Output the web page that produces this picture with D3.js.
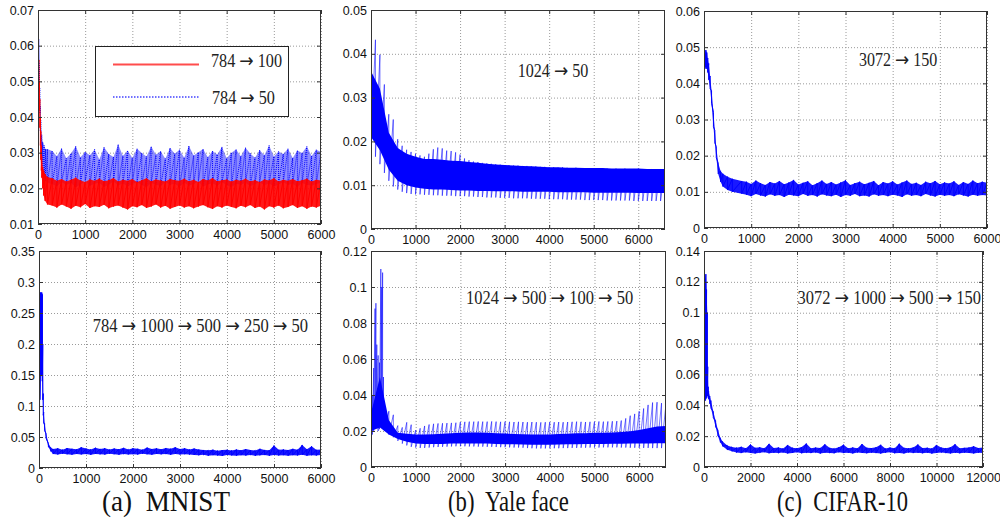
<!DOCTYPE html>
<html><head><meta charset="utf-8">
<script src="https://cdn.jsdelivr.net/npm/d3@7"></script>
<style>body{margin:0;background:#fff}svg{display:block}</style>
</head><body><svg id="c" width="1000" height="519"></svg>
<script>
// ================= DATA =================
// tick values / labels
const xTicks6000 = [0,1000,2000,3000,4000,5000,6000];
const xTicks12000 = [0,2000,4000,6000,8000,10000,12000];
const a1YTicks = [0.01,0.02,0.03,0.04,0.05,0.06,0.07];
const a1YLabels = ["0.01","0.02","0.03","0.04","0.05","0.06","0.07"];
const a2YTicks = [0,0.05,0.1,0.15,0.2,0.25,0.3,0.35];
const a2YLabels = ["0","0.05","0.1","0.15","0.2","0.25","0.3","0.35"];
const b1YTicks = [0,0.01,0.02,0.03,0.04,0.05];
const b1YLabels = ["0","0.01","0.02","0.03","0.04","0.05"];
const b2YTicks = [0,0.02,0.04,0.06,0.08,0.1,0.12];
const b2YLabels = ["0","0.02","0.04","0.06","0.08","0.1","0.12"];
const c1YTicks = [0,0.01,0.02,0.03,0.04,0.05,0.06];
const c1YLabels = ["0","0.01","0.02","0.03","0.04","0.05","0.06"];
const c2YTicks = [0,0.02,0.04,0.06,0.08,0.1,0.12,0.14];
const c2YLabels = ["0","0.02","0.04","0.06","0.08","0.1","0.12","0.14"];

const captions = ["(a)  MNIST","(b)  Yale face","(c)  CIFAR-10"];
const legendLabels = ["784 \u2192 100","784 \u2192 50"];
const annotations = ["1024 \u2192 50","3072 \u2192 150","784 \u2192 1000 \u2192 500 \u2192 250 \u2192 50","1024 \u2192 500 \u2192 100 \u2192 50","3072 \u2192 1000 \u2192 500 \u2192 150"];

// ---- (a) MNIST, 784 -> 100 (red): upper / lower envelope of the oscillating error
const a1RedHeadX  = [0,10,20,30,40,50,60,70,80,100,120,150,200];
const a1RedHeadHi = [0.066,0.062,0.056,0.050,0.045,0.040,0.036,0.032,0.029,0.026,0.025,0.024,0.0232];
const a1RedHeadLo = [0.062,0.055,0.048,0.042,0.037,0.032,0.028,0.025,0.023,0.020,0.018,0.0165,0.0155];
const a1RedTailHi = [0.0228,0.0221,0.0226,0.0219,0.0224,0.0230,0.0222,0.0218,0.0225,0.0221,
 0.0227,0.0220,0.0223,0.0229,0.0219,0.0224,0.0221,0.0226,0.0218,0.0223,
 0.0228,0.0220,0.0225,0.0222,0.0219,0.0226,0.0223,0.0221,0.0227,0.0220,
 0.0224,0.0218,0.0226,0.0222,0.0229,0.0220,0.0223,0.0225,0.0219,0.0224,
 0.0221,0.0227,0.0220,0.0223,0.0218,0.0225,0.0222,0.0228,0.0219,0.0224,
 0.0221,0.0226,0.0220,0.0223,0.0227,0.0219,0.0224,0.0222];
const a1RedTailLo = [0.0152,0.0146,0.0155,0.0149,0.0143,0.0151,0.0147,0.0156,0.0145,0.0150,
 0.0148,0.0154,0.0144,0.0149,0.0152,0.0146,0.0141,0.0150,0.0147,0.0153,
 0.0145,0.0149,0.0155,0.0146,0.0151,0.0143,0.0148,0.0152,0.0146,0.0150,
 0.0144,0.0149,0.0153,0.0147,0.0142,0.0150,0.0146,0.0152,0.0148,0.0144,
 0.0151,0.0147,0.0153,0.0145,0.0149,0.0141,0.0150,0.0146,0.0152,0.0144,
 0.0148,0.0153,0.0145,0.0150,0.0143,0.0149,0.0146,0.0151];

// ---- (a) MNIST, 784 -> 50 (blue dotted)
const a1BlueHeadX  = [0,10,20,30,40,50,60,80,100,130,160,200];
const a1BlueHeadHi = [0.070,0.067,0.062,0.055,0.048,0.043,0.039,0.035,0.033,0.032,0.031,0.031];
const a1BlueHeadLo = [0.068,0.062,0.055,0.047,0.041,0.036,0.032,0.028,0.025,0.023,0.022,0.0215];
const a1BlueTailHi = [0.0305,0.0290,0.0312,0.0284,0.0298,0.0318,0.0287,0.0302,0.0293,0.0309,
 0.0281,0.0315,0.0296,0.0288,0.0323,0.0291,0.0306,0.0285,0.0311,0.0299,
 0.0289,0.0317,0.0294,0.0304,0.0283,0.0313,0.0297,0.0308,0.0286,0.0319,
 0.0292,0.0301,0.0310,0.0287,0.0305,0.0295,0.0316,0.0284,0.0300,0.0309,
 0.0290,0.0314,0.0298,0.0286,0.0307,0.0293,0.0320,0.0289,0.0303,0.0296,
 0.0311,0.0285,0.0306,0.0299,0.0317,0.0291,0.0308,0.0302];
const a1BlueTailLo = [0.0212,0.0206,0.0218,0.0209,0.0215,0.0203,0.0211,0.0220,0.0207,0.0213,
 0.0216,0.0204,0.0210,0.0219,0.0208,0.0214,0.0205,0.0212,0.0217,0.0209,
 0.0203,0.0215,0.0211,0.0206,0.0218,0.0210,0.0213,0.0204,0.0216,0.0208,
 0.0212,0.0219,0.0205,0.0211,0.0214,0.0207,0.0217,0.0209,0.0203,0.0213,
 0.0210,0.0216,0.0206,0.0212,0.0218,0.0208,0.0214,0.0205,0.0211,0.0217,
 0.0209,0.0213,0.0204,0.0215,0.0210,0.0207,0.0212,0.0216];

// ---- (a) MNIST deep, 784 -> 1000 -> 500 -> 250 -> 50
const a2HeadX  = [0,10,20,40,60,70,80,90,100,120,150,200,250];
const a2HeadHi = [0.068,0.275,0.283,0.283,0.283,0.280,0.200,0.120,0.090,0.072,0.056,0.040,0.033];
const a2HeadLo = [0.058,0.065,0.110,0.150,0.150,0.140,0.110,0.085,0.072,0.060,0.048,0.034,0.027];
const a2TailHi = [0.0305,0.0318,0.0296,0.0322,0.0310,0.0301,0.0335,0.0314,0.0299,0.0327,
 0.0308,0.0320,0.0297,0.0315,0.0304,0.0325,0.0300,0.0318,0.0311,0.0296,
 0.0329,0.0306,0.0317,0.0302,0.0323,0.0312,0.0335,0.0305,0.0319,0.0300,
 0.0314,0.0298,0.0291,0.0285,0.0296,0.0280,0.0289,0.0294,0.0283,0.0299,
 0.0287,0.0306,0.0290,0.0284,0.0310,0.0292,0.0288,0.0362,0.0294,0.0300,
 0.0289,0.0309,0.0296,0.0372,0.0303,0.0350,0.0293,0.0298];
const a2TailLo = [0.0225,0.0218,0.0230,0.0221,0.0215,0.0227,0.0219,0.0224,0.0212,0.0226,
 0.0220,0.0216,0.0228,0.0222,0.0214,0.0225,0.0219,0.0223,0.0217,0.0229,
 0.0221,0.0215,0.0226,0.0220,0.0224,0.0213,0.0227,0.0218,0.0222,0.0216,
 0.0210,0.0205,0.0212,0.0198,0.0207,0.0201,0.0195,0.0209,0.0203,0.0199,
 0.0206,0.0200,0.0211,0.0196,0.0204,0.0208,0.0197,0.0210,0.0202,0.0206,
 0.0199,0.0207,0.0203,0.0212,0.0198,0.0205,0.0201,0.0208];

// ---- (b) Yale, 1024 -> 50 : outer envelope (every 100) and dense core (every 200)
const b1Hi = [0.0438,0.0432,0.0398,0.0330,0.0262,0.0250,0.0205,0.0190,0.0181,0.0176,0.0172,
 0.0168,0.0165,0.0172,0.0182,0.0186,0.0184,0.0179,0.0178,0.0175,0.0170,
 0.0161,0.0157,0.0154,0.0153,0.0151,0.0150,0.0149,0.0148,0.0147,0.0146,
 0.0146,0.0145,0.0145,0.0144,0.0144,0.0143,0.0143,0.0142,0.0142,0.0141,
 0.0141,0.0140,0.0141,0.0140,0.0139,0.0140,0.0139,0.0139,0.0138,0.0139,
 0.0138,0.0139,0.0138,0.0137,0.0138,0.0137,0.0138,0.0137,0.0137,0.0138,
 0.0137,0.0136,0.0137,0.0136,0.0137,0.0136];
const b1Lo = [0.0185,0.0165,0.0148,0.0128,0.0110,0.0097,0.0090,0.0085,0.0082,0.0080,0.0079,
 0.0079,0.0078,0.0078,0.0077,0.0077,0.0076,0.0076,0.0076,0.0075,0.0075,
 0.0075,0.0074,0.0074,0.0073,0.0073,0.0072,0.0072,0.0072,0.0071,0.0071,
 0.0071,0.0070,0.0070,0.0070,0.0070,0.0069,0.0069,0.0069,0.0069,0.0068,
 0.0068,0.0068,0.0068,0.0067,0.0067,0.0067,0.0067,0.0066,0.0066,0.0066,
 0.0066,0.0066,0.0065,0.0065,0.0065,0.0065,0.0065,0.0065,0.0064,0.0064,
 0.0064,0.0064,0.0064,0.0064,0.0064,0.0064];
const b1CoreHi = [0.036,0.032,0.022,0.0185,0.0172,0.0165,0.0160,0.0160,0.0158,0.0156,0.0155,
 0.0153,0.0151,0.0149,0.0147,0.0146,0.0145,0.0144,0.0143,0.0142,0.0141,0.0141,0.0140,
 0.0140,0.0139,0.0139,0.0139,0.0138,0.0138,0.0138,0.0138,0.0137,0.0137,0.0137];
const b1CoreLo = [0.021,0.018,0.0135,0.0110,0.0100,0.0095,0.0092,0.0090,0.0090,0.0089,0.0088,
 0.0088,0.0087,0.0087,0.0086,0.0086,0.0086,0.0085,0.0085,0.0085,0.0085,0.0084,0.0084,
 0.0084,0.0084,0.0083,0.0083,0.0083,0.0083,0.0083,0.0082,0.0082,0.0082,0.0082];

// ---- (b) Yale deep, 1024 -> 500 -> 100 -> 50
const b2HeadX  = [0,30,60,90,110,130,160,190,220,240,260,280,300];
const b2HeadHi = [0.046,0.040,0.055,0.088,0.091,0.068,0.062,0.058,0.110,0.100,0.108,0.050,0.036];
const b2HeadLo = [0.014,0.018,0.020,0.022,0.024,0.022,0.020,0.021,0.024,0.022,0.023,0.021,0.020];
const b2TailHi = [0.0310,0.0290,0.0230,0.0220,0.0248,0.0235,0.0205,0.0215,0.0228,0.0236,
 0.0240,0.0242,0.0243,0.0244,0.0245,0.0246,0.0250,0.0251,0.0252,0.0252,
 0.0253,0.0252,0.0252,0.0253,0.0252,0.0251,0.0252,0.0251,0.0250,0.0251,
 0.0250,0.0249,0.0250,0.0249,0.0248,0.0249,0.0250,0.0249,0.0250,0.0249,
 0.0250,0.0251,0.0252,0.0251,0.0250,0.0251,0.0252,0.0253,0.0252,0.0253,
 0.0254,0.0255,0.0258,0.0270,0.0285,0.0295,0.0310,0.0325,0.0345,0.0358,
 0.0360,0.0355,0.0352];
const b2TailLo = [0.0180,0.0165,0.0145,0.0130,0.0120,0.0112,0.0108,0.0106,0.0106,0.0108,
 0.0110,0.0111,0.0112,0.0113,0.0114,0.0115,0.0115,0.0115,0.0114,0.0114,
 0.0113,0.0113,0.0112,0.0112,0.0111,0.0110,0.0110,0.0109,0.0108,0.0108,
 0.0107,0.0105,0.0104,0.0103,0.0103,0.0103,0.0104,0.0104,0.0104,0.0105,
 0.0105,0.0106,0.0106,0.0107,0.0107,0.0108,0.0108,0.0108,0.0109,0.0109,
 0.0109,0.0109,0.0108,0.0108,0.0107,0.0107,0.0106,0.0106,0.0106,0.0105,
 0.0105,0.0105,0.0106];
const b2CoreHi = [0.030,0.050,0.026,0.019,0.0185,0.0180,0.0180,0.0182,0.0185,0.0188,0.0190,
 0.0192,0.0192,0.0190,0.0188,0.0186,0.0184,0.0182,0.0180,0.0180,0.0181,0.0183,0.0185,
 0.0187,0.0188,0.0190,0.0190,0.0192,0.0194,0.0198,0.0205,0.0215,0.0225,0.0228];
const b2CoreLo = [0.020,0.022,0.018,0.0155,0.0140,0.0130,0.0128,0.0128,0.0128,0.0130,0.0130,
 0.0131,0.0131,0.0130,0.0128,0.0127,0.0126,0.0125,0.0124,0.0124,0.0124,0.0125,0.0126,
 0.0127,0.0128,0.0128,0.0128,0.0129,0.0129,0.0130,0.0130,0.0131,0.0132,0.0132];

// ---- (c) CIFAR-10, 3072 -> 150
const c1HeadX  = [0,20,40,60,80,100,130,160,200,230,260,300,350,400,500,600,800];
const c1HeadHi = [0.0440,0.0480,0.0492,0.0485,0.0470,0.0455,0.0420,0.0380,0.0320,0.0270,0.0225,0.0180,0.0158,0.0150,0.0142,0.0136,0.0130];
const c1HeadLo = [0.0415,0.0440,0.0445,0.0440,0.0430,0.0410,0.0385,0.0345,0.0280,0.0235,0.0195,0.0150,0.0128,0.0115,0.0105,0.0100,0.0095];
const c1TailHi = [0.0128,0.0122,0.0131,0.0124,0.0119,0.0127,0.0123,0.0130,0.0121,0.0126,
 0.0133,0.0120,0.0125,0.0129,0.0118,0.0124,0.0131,0.0122,0.0127,0.0120,
 0.0126,0.0132,0.0119,0.0124,0.0128,0.0121,0.0125,0.0130,0.0118,0.0127,
 0.0123,0.0129,0.0120,0.0126,0.0131,0.0122,0.0125,0.0119,0.0128,0.0124,
 0.0130,0.0121,0.0126,0.0123,0.0129,0.0119,0.0127,0.0122,0.0131,0.0124,
 0.0128,0.0125];
const c1TailLo = [0.0092,0.0088,0.0094,0.0090,0.0087,0.0093,0.0089,0.0091,0.0086,0.0092,
 0.0090,0.0088,0.0094,0.0089,0.0091,0.0087,0.0093,0.0090,0.0088,0.0092,
 0.0086,0.0091,0.0089,0.0094,0.0088,0.0090,0.0087,0.0093,0.0089,0.0091,
 0.0088,0.0092,0.0090,0.0086,0.0093,0.0089,0.0091,0.0088,0.0094,0.0090,
 0.0087,0.0092,0.0089,0.0091,0.0088,0.0093,0.0090,0.0087,0.0092,0.0089,
 0.0091,0.0090];

// ---- (c) CIFAR-10 deep, 3072 -> 1000 -> 500 -> 150
const c2HeadX  = [0,20,50,80,110,140,160,180,200,250,300,400,500,600,700,800,1000,1200];
const c2HeadHi = [0.058,0.085,0.122,0.125,0.115,0.100,0.065,0.052,0.049,0.046,0.043,0.036,0.030,0.024,0.019,0.0165,0.0140,0.0130];
const c2HeadLo = [0.042,0.042,0.043,0.044,0.045,0.048,0.046,0.045,0.044,0.041,0.038,0.032,0.026,0.020,0.016,0.0135,0.0112,0.0102];
const c2TailHi = [0.0125,0.0131,0.0122,0.0146,0.0124,0.0128,0.0121,0.0150,0.0123,0.0127,
 0.0120,0.0143,0.0125,0.0122,0.0129,0.0152,0.0121,0.0126,0.0123,0.0147,
 0.0124,0.0120,0.0128,0.0145,0.0122,0.0127,0.0121,0.0149,0.0125,0.0123,
 0.0128,0.0144,0.0120,0.0126,0.0122,0.0151,0.0124,0.0121,0.0127,0.0146,
 0.0123,0.0125,0.0120,0.0143,0.0126,0.0122,0.0128,0.0148,0.0121,0.0124,
 0.0127,0.0135,0.0123,0.0126];
const c2TailLo = [0.0094,0.0090,0.0095,0.0091,0.0088,0.0093,0.0096,0.0089,0.0092,0.0090,
 0.0094,0.0088,0.0091,0.0095,0.0089,0.0092,0.0090,0.0094,0.0087,0.0093,
 0.0091,0.0089,0.0095,0.0090,0.0092,0.0088,0.0094,0.0091,0.0089,0.0093,
 0.0090,0.0087,0.0092,0.0095,0.0089,0.0091,0.0088,0.0094,0.0090,0.0092,
 0.0089,0.0093,0.0087,0.0091,0.0094,0.0090,0.0088,0.0092,0.0089,0.0093,
 0.0091,0.0088,0.0092,0.0090];

// ================= HELPERS =================
function build(headX, headHi, headLo, tailStart, tailStep, tailHi, tailLo){
  const out = [];
  headX.forEach((x,i)=>out.push({x, hi:headHi[i], lo:headLo[i]}));
  tailHi.forEach((h,i)=>out.push({x: tailStart + i*tailStep, hi:h, lo:tailLo[i]}));
  return out;
}
function regular(start, step, hi, lo){ return hi.map((h,i)=>({x:start+i*step, hi:h, lo:lo[i]})); }

const svg = d3.select('#c');
const FONT_SANS = "'Liberation Sans', Arial, Helvetica, sans-serif";
const FONT_SERIF = "'Liberation Serif', 'Times New Roman', serif";
const FONT_ARROW = "'DejaVu Sans', 'DejaVu Serif', sans-serif";
const BLUE = '#0000ff', RED = '#ff0000';

const panels = [
  {key:'a1', left:38,  right:321, top:10,  bottom:224, xd:[0,6000],  yd:[0.01,0.07], xt:xTicks6000,  yt:a1YTicks, yl:a1YLabels},
  {key:'b1', left:371, right:665, top:10,  bottom:229, xd:[0,6600],  yd:[0,0.05],    xt:xTicks6000,  yt:b1YTicks, yl:b1YLabels},
  {key:'c1', left:704, right:987, top:11,  bottom:228, xd:[0,6000],  yd:[0,0.06],    xt:xTicks6000,  yt:c1YTicks, yl:c1YLabels},
  {key:'a2', left:39,  right:321, top:251, bottom:468, xd:[0,6000],  yd:[0,0.35],    xt:xTicks6000,  yt:a2YTicks, yl:a2YLabels},
  {key:'b2', left:371, right:666, top:251, bottom:467, xd:[0,6600],  yd:[0,0.12],    xt:xTicks6000,  yt:b2YTicks, yl:b2YLabels},
  {key:'c2', left:704, right:983, top:251, bottom:467, xd:[0,12000], yd:[0,0.14],    xt:xTicks12000, yt:c2YTicks, yl:c2YLabels},
];

const series = {
  a1: [
    {pts: build(a1BlueHeadX,a1BlueHeadHi,a1BlueHeadLo,300,100,a1BlueTailHi,a1BlueTailLo), color:BLUE, fillOp:0.45, dash:'1,1', lineOp:1},
    {pts: build(a1RedHeadX,a1RedHeadHi,a1RedHeadLo,300,100,a1RedTailHi,a1RedTailLo), color:RED, fillOp:0.9, dash:null, lineOp:1}
  ],
  a2: [{pts: build(a2HeadX,a2HeadHi,a2HeadLo,300,100,a2TailHi,a2TailLo), color:BLUE, fillOp:0.9, dash:null, lineOp:1}],
  b1: [{pts: regular(0,100,b1Hi,b1Lo), core: regular(0,200,b1CoreHi,b1CoreLo), color:BLUE, fillOp:0.0, dash:null, lineOp:0.55}],
  b2: [{pts: build(b2HeadX,b2HeadHi,b2HeadLo,400,100,b2TailHi,b2TailLo), core: regular(0,200,b2CoreHi,b2CoreLo), color:BLUE, fillOp:0.0, dash:null, lineOp:0.55}],
  c1: [{pts: build(c1HeadX,c1HeadHi,c1HeadLo,900,100,c1TailHi,c1TailLo), color:BLUE, fillOp:0.9, dash:null, lineOp:1}],
  c2: [{pts: build(c2HeadX,c2HeadHi,c2HeadLo,1400,200,c2TailHi,c2TailLo), color:BLUE, fillOp:0.9, dash:null, lineOp:1}],
};

panels.forEach(p=>{
  const g = svg.append('g');
  const x = d3.scaleLinear().domain(p.xd).range([p.left, p.right]);
  const y = d3.scaleLinear().domain(p.yd).range([p.bottom, p.top]);
  const W = p.right - p.left, H = p.bottom - p.top;

  // grid (through the axes)
  const gx = g.append('g').attr('transform',`translate(0,${p.bottom})`)
    .call(d3.axisBottom(x).tickValues(p.xt).tickSize(-H).tickFormat(''));
  const gy = g.append('g').attr('transform',`translate(${p.left},0)`)
    .call(d3.axisLeft(y).tickValues(p.yt).tickSize(-W).tickFormat(''));
  [gx,gy].forEach(a=>{
    a.select('.domain').remove();
    a.selectAll('line').attr('stroke','#9a9a9a').attr('stroke-dasharray','1,2').attr('stroke-width',1);
  });

  // data
  const cid = 'clip-'+p.key;
  svg.append('clipPath').attr('id',cid).append('rect')
    .attr('x',p.left).attr('y',p.top).attr('width',W).attr('height',H);
  const dg = g.append('g').attr('clip-path',`url(#${cid})`);
  const area = d3.area().x(d=>x(d.x)).y0(d=>y(d.lo)).y1(d=>y(d.hi));
  (series[p.key]||[]).forEach(s=>{
    if (s.core) {
      dg.append('path').attr('d', area(s.core)).attr('fill', s.color).attr('stroke','none');
    }
    if (s.fillOp > 0) {
      dg.append('path').attr('d', area(s.pts)).attr('fill', s.color).attr('fill-opacity', s.fillOp).attr('stroke','none');
    }
    let d = '';
    s.pts.forEach((q,i)=>{
      d += (i?'L':'M') + x(q.x).toFixed(2) + ',' + y(q.hi).toFixed(2) + 'L' + x(q.x).toFixed(2) + ',' + y(q.lo).toFixed(2);
    });
    dg.append('path').attr('d', d).attr('fill','none').attr('stroke', s.color)
      .attr('stroke-width',1).attr('stroke-opacity', s.lineOp)
      .attr('stroke-dasharray', s.dash);
  });

  // axes with inward ticks
  const ax = g.append('g').attr('transform',`translate(0,${p.bottom})`)
    .call(d3.axisBottom(x).tickValues(p.xt).tickFormat(d3.format('d')).tickSizeInner(-4).tickSizeOuter(0).tickPadding(6));
  const ay = g.append('g').attr('transform',`translate(${p.left},0)`)
    .call(d3.axisLeft(y).tickValues(p.yt).tickFormat((d,i)=>p.yl[i]).tickSizeInner(-4).tickSizeOuter(0).tickPadding(4));
  const at = g.append('g').attr('transform',`translate(0,${p.top})`)
    .call(d3.axisTop(x).tickValues(p.xt).tickFormat('').tickSizeInner(-4).tickSizeOuter(0));
  const ar = g.append('g').attr('transform',`translate(${p.right},0)`)
    .call(d3.axisRight(y).tickValues(p.yt).tickFormat('').tickSizeInner(-4).tickSizeOuter(0));
  [ax,ay,at,ar].forEach(a=>{
    a.select('.domain').remove();
    a.selectAll('line').attr('stroke','#333');
    a.selectAll('text').attr('font-family',FONT_SANS).attr('font-size',12.5).attr('fill','#111');
  });

  // frame
  g.append('rect').attr('x',p.left+0.5).attr('y',p.top+0.5).attr('width',W-1).attr('height',H-1)
    .attr('fill','none').attr('stroke','#333').attr('stroke-width',1);
});

// horizontally fitted text: natural width measured, then scaled to the target width
function fitText(parent, xPos, yPos, width, fill){
  const g = parent.append('g');
  const el = g.append('text').attr('x',0).attr('y',0).attr('fill',fill).style('white-space','pre');
  return {g, el, fit(){
    const nat = el.node().getComputedTextLength();
    g.attr('transform',`translate(${xPos},${yPos}) scale(${(width/nat).toFixed(4)},1)`);
  }};
}
// text with LaTeX-like arrows
function mathText(parent, t, xPos, yPos, width){
  const f = fitText(parent, xPos, yPos, width, '#222');
  f.el.attr('font-family',FONT_SERIF).attr('font-size',18);
  t.split('\u2192').forEach((part,i)=>{
    if (i>0) f.el.append('tspan').attr('font-family',FONT_ARROW).attr('font-size',19).text('\u2192');
    f.el.append('tspan').text(part);
  });
  f.fit();
}

// legend in (a) top
const lg = svg.append('g');
lg.append('rect').attr('x',95.5).attr('y',46.5).attr('width',193).attr('height',70)
  .attr('fill','#fff').attr('stroke','#222').attr('stroke-width',1);
lg.append('line').attr('x1',113).attr('x2',199).attr('y1',64.5).attr('y2',64.5)
  .attr('stroke',RED).attr('stroke-width',2).attr('stroke-opacity',0.7);
lg.append('line').attr('x1',113).attr('x2',199).attr('y1',97).attr('y2',97)
  .attr('stroke',BLUE).attr('stroke-width',1.3).attr('stroke-dasharray','1.5,1.5').attr('stroke-opacity',0.75);
const legPos = [[211,66.7,71],[212,104.3,63]];
legendLabels.forEach((t,i)=> mathText(lg, t, legPos[i][0], legPos[i][1], legPos[i][2]));

// annotations
const annPos = [[517.7,76.7,70.6],[859,66,78.3],[92.7,331.7,215.6],[466,304,167.3],[797.5,304.3,183.5]];
annotations.forEach((t,i)=> mathText(svg, t, annPos[i][0], annPos[i][1], annPos[i][2]));

// captions
const capPos = [[102,511,128],[448,511,121],[777,511,131]];
captions.forEach((t,i)=>{
  const f = fitText(svg, capPos[i][0], capPos[i][1], capPos[i][2], '#111');
  f.el.attr('font-family',FONT_SERIF).attr('font-size',29).text(t);
  f.fit();
});
</script></body></html>
